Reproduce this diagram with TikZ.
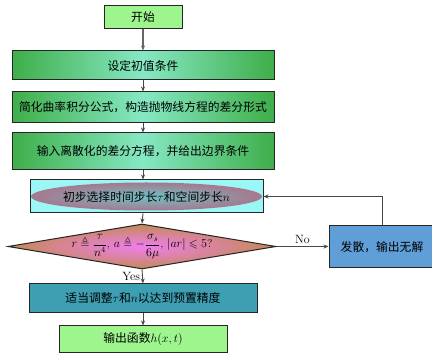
\documentclass[tikz,border=0pt]{standalone}
\usepackage{amsmath,amssymb}
\usepackage{fontspec}
\newfontfamily\cjk{Noto Sans CJK SC}
\usetikzlibrary{shapes.geometric,arrows.meta}
\definecolor{lgreen}{HTML}{9EF58E}
\definecolor{dgreen}{HTML}{3FAE4A}
\definecolor{mgreen}{HTML}{86E8C4}
\definecolor{cyanbox}{HTML}{9AF7F5}
\definecolor{mauve}{HTML}{A6788E}
\definecolor{tealc}{HTML}{5FAAB0}
\definecolor{brownd}{HTML}{C48A55}
\definecolor{pinkd}{HTML}{F07EEE}
\definecolor{bluebox}{HTML}{5F9ED6}
\definecolor{tealbox}{HTML}{3E9FB3}
\definecolor{edge}{HTML}{262626}
\tikzset{
  x=1pt, y=-1pt,
  box/.style={draw=edge, line width=1pt, rectangle, inner sep=0pt, font=\cjk\fontsize{11.8}{13}\selectfont},
  lightbox/.style={box, fill=lgreen},
  greenbox/.style={box, left color=dgreen, right color=dgreen, middle color=mgreen},
  conn/.style={draw=edge!85, line width=0.9pt, -{Stealth[length=5pt,width=4pt]}},
  lbl/.style={font=\fontsize{12}{14}\selectfont, inner sep=0pt}
}
\begin{document}
\begin{tikzpicture}
\useasboundingbox (0,0) rectangle (432,358);
\node[lightbox, minimum width=78pt, minimum height=23pt] (start) at (143,17.5) {开始};
\node[greenbox, minimum width=262pt, minimum height=29pt] (b2) at (143,65.5) {设定初值条件};
\node[greenbox, minimum width=262pt, minimum height=31pt] (b3) at (143,107.5) {简化曲率积分公式，构造抛物线方程的差分形式};
\node[greenbox, minimum width=262pt, minimum height=37pt] (b4) at (143,151.5) {输入离散化的差分方程，并给出边界条件};
\node[box, fill=cyanbox, minimum width=233pt, minimum height=33pt] (b5) at (146.5,196.5) {};
\node[ellipse, inner sep=0pt, minimum width=231pt, minimum height=28pt, inner color=tealc!70!cyanbox, outer color=mauve] (e5) at (b5.center) {};
\node[font=\cjk\fontsize{11.8}{13}\selectfont, inner sep=0pt] (t5) at (b5.center) {初步选择时间步长$\tau$和空间步长$n$};
\node[diamond, draw=edge, line width=1pt, inner sep=0pt, minimum width=268pt, minimum height=45pt, inner color=pinkd, outer color=brownd] (d) at (142,246.5) {};
\node[inner sep=0pt, font=\fontsize{11.5}{13}\selectfont] (dt) at (d.center) {$r\triangleq\dfrac{\tau}{n^4}$, $a\triangleq-\dfrac{\sigma_s}{6\mu}$, $|ar|\leqslant 5$?};
\node[box, fill=bluebox, minimum width=106pt, minimum height=42pt] (blue) at (382,247) {发散，输出无解};
\node[box, fill=tealbox, minimum width=228pt, minimum height=29pt] (b6) at (143,298.5) {适当调整$\tau$和$n$以达到预置精度};
\node[lightbox, minimum width=168pt, minimum height=27pt] (b7) at (143,339.5) {输出函数$h(x,t)$};
\draw[conn, draw=gray!80!black, line width=1.3pt] (start) -- (b2);
\draw[conn] (b2) -- (b3);
\draw[conn] (b3) -- (b4);
\draw[conn] (b4.south) -- (b4.south |- b5.north);
\draw[conn] (b4.south |- b5.south) -- (d.north);
\draw[conn] (d.east) -- (d.east -| blue.west) node[lbl, midway, above=2pt] {No};
\draw[conn] (blue.north) |- (b5.east);
\draw[conn] (d.south) -- (b6.north) node[lbl, midway, left=2pt] {Yes};
\draw[conn] (b6) -- (b7);
\end{tikzpicture}
\end{document}
